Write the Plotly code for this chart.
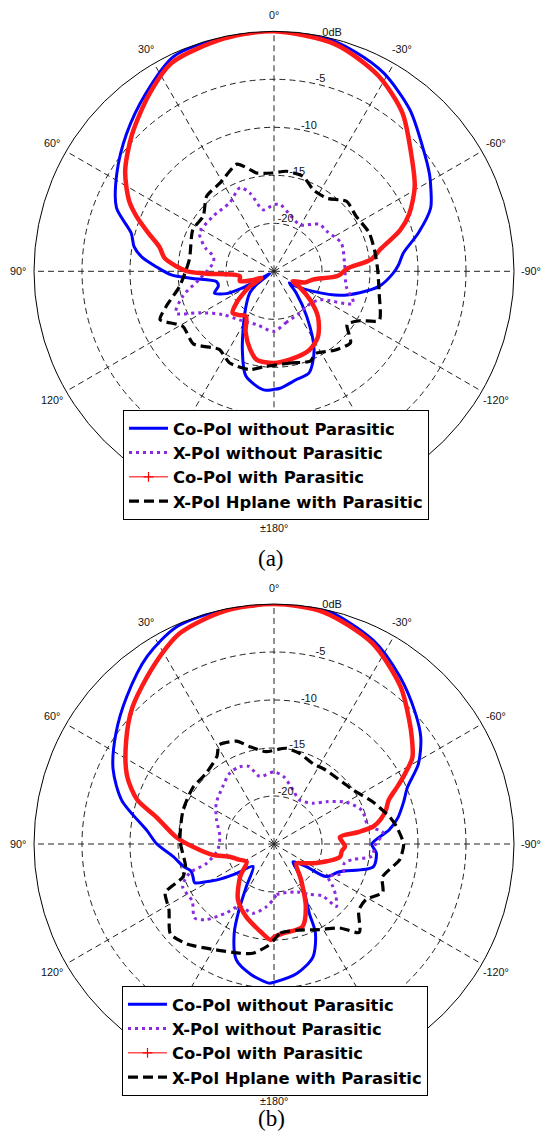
import math
import plotly.graph_objects as go

# ---------------- data (angle in degrees, value in dB) ----------------
BLUE_A_THETA = [-180,-177,-168,-161,-153,-144,-134,-127,-124,-117,-110,-104,-98,-91,-87,-82,-75,-68,-62,-58,-50,-40,-29,-20,-12,0,12,25,36,47,58,68,75,80,84,88,92,95,100,105,110,115,118,120,127,132,145,158,165,175,180]
BLUE_A_DB = [-12.7,-12.8,-13.5,-13.8,-15.8,-19.2,-21.8,-23.0,-22.2,-20.4,-17.7,-15.8,-13.9,-12.6,-12.0,-11.4,-9.4,-7.4,-6.5,-5.9,-4.8,-3.0,-1.4,-0.6,-0.1,0,-0.05,-0.3,-2.2,-4.0,-5.7,-7.3,-9.6,-10.2,-11.2,-12.8,-14.3,-16.5,-18.9,-19.0,-18.4,-19.5,-21.5,-24.5,-22.8,-21.6,-19.7,-16.2,-13.7,-12.6,-12.7]

PURP_A_THETA = [-180,-167,-148,-135,-122,-112,-102,-83,-67,-53,-44,-29,-16,-5,1,10,17,22,33,48,63,72,76,82,96,105,113,119,130,145,162,180]
PURP_A_DB = [-18.75,-19.5,-19.9,-20.0,-19.4,-16.1,-17.3,-17.6,-17.4,-18.1,-18.2,-19.45,-18.9,-18.0,-18.1,-18.5,-16.5,-15.6,-16.5,-16.45,-16.3,-17.6,-18.5,-18.6,-17.2,-15.2,-13.9,-16.1,-18.0,-18.8,-19.15,-18.75]

RED_A_THETA = [-180,-170,-156,-146,-136,-128,-122,-118,-110,-102,-94,-88,-83,-78,-72,-67,-59,-49,-39,-28,-15,0,12,26,35,46,56,64,68,73,78,83,87,90,92,98,106,112,118,122,126,130,135,142,148,155,163,169,180]
RED_A_DB = [-15.45,-15.65,-16.0,-16.8,-18.4,-20.3,-21.8,-22.8,-21.6,-20.85,-18.3,-17.4,-14.8,-13.6,-11.2,-9.7,-7.9,-6.1,-3.75,-1.9,-0.5,0,-0.2,-0.8,-2.4,-4.45,-6.3,-8.2,-9.5,-11.3,-12.8,-13.5,-14.8,-16.0,-17.95,-21.4,-21.3,-22.5,-23.5,-22.0,-21.0,-19.9,-18.9,-19.2,-19.5,-18.0,-16.5,-15.6,-15.45]

BLACK_A_THETA = [-180,-170,-158,-153,-142,-133,-126,-120,-115,-102,-89,-78,-68,-56,-46,-36,-26,-17,-7,1,10,19,31,42,52,63,82,99,108,113,121,132,145,154,166,175,180]
BLACK_A_DB = [-15.2,-15.3,-14.9,-15.4,-14.6,-14.1,-15.6,-14.7,-12.9,-13.8,-14.2,-14.3,-14.3,-14.7,-14.5,-15.6,-15.6,-14.65,-14.5,-14.76,-14.6,-13.2,-14.2,-14.5,-15.65,-15.5,-16.1,-15.05,-13.2,-12.1,-13.9,-13.7,-15.07,-14.4,-14.45,-15.07,-15.2]

BLUE_B_THETA = [-180,-170,-161,-155,-153,-148,-145,-140,-133,-125,-122,-113,-103,-95,-90,-83,-78,-72,-67,-61,-54,-47,-37,-26,-12,0,12,24,34,45,55,65,74,84,90,97,104,108,112,116,119,122,128,137,147,152,156,162,170,178,180]
BLUE_B_DB = [-10.6,-11.3,-12.55,-14.8,-16.9,-19.0,-20.0,-21.0,-22.3,-20.9,-18.6,-17.6,-14.4,-14.3,-14.8,-12.9,-11.8,-10.8,-9.9,-7.8,-6.1,-4.9,-3.2,-1.4,0,0,0,-0.2,-1.4,-3.3,-4.9,-6.5,-8.5,-11.7,-12.8,-14.4,-15.3,-15.9,-15.9,-15.8,-16.9,-17.9,-20.0,-21.8,-19.7,-17.25,-14.8,-12.3,-11.2,-10.5,-10.6]

PURP_B_THETA = [-180,-177,-155,-145,-137,-135,-130,-126,-121,-113,-105,-101,-97,-91,-84,-79,-69,-60,-51,-44,-30,-19,-8,0,12,18,24,32,42,55,67,82,96,106,109,115,125,133,138,145,151,163,173,180]
PURP_B_DB = [-19.3,-19.7,-19.5,-18.6,-17.6,-15.8,-16.6,-17.4,-18.4,-17.2,-17.4,-16.6,-14.7,-14.5,-13.6,-15.0,-15.2,-16.3,-18.0,-19.1,-19.7,-19.0,-17.9,-17.5,-17.8,-16.5,-16.2,-16.3,-17.0,-17.65,-18.5,-19.3,-19.1,-17.7,-15.7,-14.5,-14.6,-13.7,-14.4,-16.2,-17.6,-17.45,-18.4,-19.3]

RED_B_THETA = [-180,-174,-161,-153,-143,-131,-122,-114,-101,-96,-92,-84,-82,-80,-77,-73,-69,-65,-62,-58,-52,-48,-39,-26,-12,0,12,24,34,46,55,65,72,77,86,92,100,106,114,123,134,147,159,170,178,180]
RED_B_DB = [-15.3,-15.65,-15.9,-17.7,-20.3,-21.9,-21.2,-20.15,-18.0,-17.9,-17.6,-18.1,-16.2,-14.5,-13.6,-12.8,-12.2,-10.8,-9.6,-8.0,-6.8,-6.0,-4.0,-1.7,-0.3,0,-0.2,-0.95,-2.6,-4.5,-6.2,-8.1,-10.0,-12.4,-14.8,-16.55,-18.5,-20.2,-21.0,-21.6,-20.1,-18.1,-16.9,-15.9,-15.0,-15.3]

BLACK_B_THETA = [-180,-176,-165,-152,-142,-136,-128,-121,-114,-107,-97,-90,-82,-77,-67,-56,-35,-26,-16,-7,5,14,20,29,33,44,55,70,88,104,110,114,122,131,139,151,163,169,176,180]
BLACK_B_DB = [-15.0,-15.7,-15.7,-14.9,-13.9,-12.2,-13.8,-13.8,-12.6,-13.2,-11.8,-11.5,-12.1,-12.6,-13.8,-15.0,-15.6,-15.7,-15.2,-14.95,-15.35,-14.55,-13.6,-13.2,-14.1,-14.8,-14.7,-14.9,-15.2,-15.5,-14.9,-12.6,-12.1,-10.7,-11.2,-12.4,-13.1,-13.4,-14.3,-15.0]

SERIES_NAMES = ["Co-Pol without Parasitic", "X-Pol without Parasitic",
                "Co-Pol with Parasitic", "X-Pol Hplane with Parasitic"]
ANG_TICKS = [0, 30, 60, 90, 120, 150, 180, 210, 240, 270, 300, 330]
# the ±150° labels sit under the legend box in the reference, so they are left blank
ANG_LABELS = ["0°", "30°", "60°", "90°", "120°", "", "±180°",
              "", "-120°", "-90°", "-60°", "-30°"]
RAD_TICKS = [-20, -15, -10, -5, 0]
RAD_LABELS = ["-20", "-15", "-10", "-5", "0dB"]
RAD_LABEL_ANGLE = -14
CAPTIONS = ["(a)", "(b)"]

# ---------------- figure ----------------
W, H = 541, 1148
FONT = "Liberation Sans, Arial, sans-serif"
LEGEND_FONT = "DejaVu Sans, Verdana, sans-serif"
SERIF = "Liberation Serif, Times New Roman, serif"
fig = go.Figure()

STYLES = [
    dict(mode="lines", line=dict(color="#0000ff", width=3, shape="spline", smoothing=0.8)),
    dict(mode="lines", line=dict(color="#8a2be2", width=3, dash="3px,4px",
                                 shape="spline", smoothing=0.8)),
    dict(mode="lines", line=dict(color="#ff1a1a", width=4.5, shape="spline", smoothing=0.8)),
    dict(mode="lines", line=dict(color="#000000", width=3.2, dash="10px,5px",
                                 shape="spline", smoothing=0.6)),
]

panels = [
    ("polar", "legend", [(BLUE_A_THETA, BLUE_A_DB), (PURP_A_THETA, PURP_A_DB),
                         (RED_A_THETA, RED_A_DB), (BLACK_A_THETA, BLACK_A_DB)]),
    ("polar2", "legend2", [(BLUE_B_THETA, BLUE_B_DB), (PURP_B_THETA, PURP_B_DB),
                           (RED_B_THETA, RED_B_DB), (BLACK_B_THETA, BLACK_B_DB)]),
]

for sub, leg, series in panels:
    for i, ((th, r), name, st) in enumerate(zip(series, SERIES_NAMES, STYLES)):
        is_red = (i == 2)
        fig.add_trace(go.Scatterpolar(theta=th, r=r, name=name, subplot=sub, legend=leg,
                                      showlegend=not is_red, hoverinfo="skip", **st))
        if is_red:
            # legend key of the red series: thin line with a '+' marker
            fig.add_trace(go.Scatterpolar(theta=[None], r=[None], name=name, subplot=sub,
                                          legend=leg, mode="lines+markers",
                                          line=dict(color="#ff5050", width=1.5),
                                          marker=dict(symbol="cross-thin", size=7,
                                                      line=dict(color="#ff0000", width=1.2)),
                                          hoverinfo="skip"))
    # radial (dB) labels
    fig.add_trace(go.Scatterpolar(theta=[RAD_LABEL_ANGLE] * len(RAD_TICKS), r=RAD_TICKS,
                                  text=RAD_LABELS, mode="text", textposition="top center",
                                  textfont=dict(family=FONT, size=11, color="#111"),
                                  cliponaxis=False, showlegend=False, subplot=sub,
                                  hoverinfo="skip"))

R = 240            # plot radius in px
LABEL_D = 256.5    # distance of angle-label centres from the plot centre, px
cx = 274.0
centers_y = [271.3, 844.0]


def polar_layout(cy):
    return dict(
        domain=dict(x=[(cx - R) / W, (cx + R) / W],
                    y=[(H - cy - R) / H, (H - cy + R) / H]),
        bgcolor="white",
        angularaxis=dict(rotation=90, direction="counterclockwise",
                         tickmode="array", tickvals=ANG_TICKS, showticklabels=False,
                         showgrid=True, gridcolor="#222", gridwidth=1, griddash="6px,4px",
                         showline=True, linecolor="black", linewidth=1, ticks=""),
        radialaxis=dict(range=[-25, 0], tickvals=RAD_TICKS, showticklabels=False,
                        showline=False, ticks="", showgrid=True, gridcolor="#222",
                        gridwidth=1, griddash="6px,4px"),
    )


def legend_layout(x_px, y_px):
    return dict(x=x_px / W, y=1 - y_px / H, xanchor="left", yanchor="top",
                bgcolor="white", bordercolor="black", borderwidth=1,
                font=dict(family=LEGEND_FONT, size=16.4, color="black", weight="bold"),
                tracegroupgap=0, itemwidth=39, traceorder="normal")


annotations = []
# angle labels: centred at a fixed distance outside the 0 dB circle (MATLAB style)
for cy in centers_y:
    for t, lab in zip(ANG_TICKS, ANG_LABELS):
        if not lab:
            continue
        a = math.radians(t)
        annotations.append(dict(
            text=lab, x=(cx - LABEL_D * math.sin(a)) / W,
            y=1 - (cy - LABEL_D * math.cos(a)) / H,
            xref="paper", yref="paper", xanchor="center", yanchor="middle",
            showarrow=False, font=dict(family=FONT, size=10.8, color="#111")))

for cap, yc in zip(CAPTIONS, [558, 1133]):
    annotations.append(dict(text=cap, x=271 / W, y=1 - yc / H, xref="paper", yref="paper",
                            showarrow=False, font=dict(family=SERIF, size=23, color="black")))

fig.update_layout(
    width=W, height=H, autosize=False,
    margin=dict(l=0, r=0, t=0, b=0),
    paper_bgcolor="white",
    showlegend=True,
    polar=polar_layout(centers_y[0]),
    polar2=polar_layout(centers_y[1]),
    legend=legend_layout(123, 410),
    legend2=legend_layout(122, 986),
    annotations=annotations,
)

fig.write_html("out.html")
